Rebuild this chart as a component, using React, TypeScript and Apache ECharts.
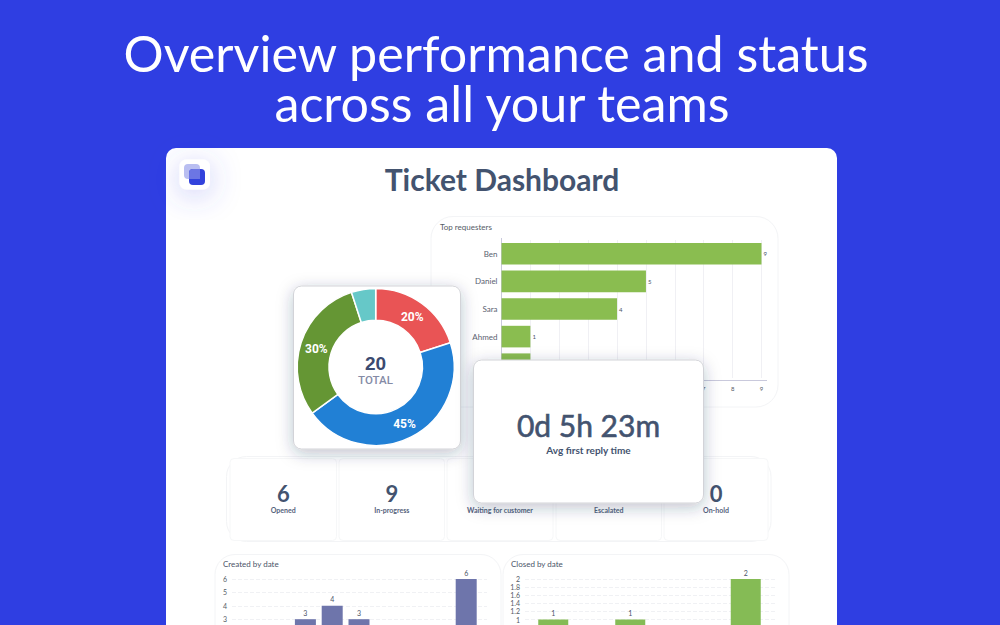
import React, { useEffect, useRef } from "react";
import * as echarts from "echarts";

const headlineLines = ["Overview performance and status", "across all your teams"];
const dashboardTitle = "Ticket Dashboard";

const requesterNames = ["Ben", "Daniel", "Sara", "Ahmed", "Omar"];
const requesterCounts = [9, 5, 4, 1, 1];

const statusNames = ["Waiting for customer", "In-progress", "Opened", "Escalated"];
const statusCounts = [4, 9, 6, 1];
const statusColors = ["#E95455", "#2180D5", "#659634", "#66C8C8"];

const kpiCells = [
  { value: "6", label: "Opened" },
  { value: "9", label: "In-progress" },
  { value: "", label: "Waiting for customer" },
  { value: "", label: "Escalated" },
  { value: "0", label: "On-hold" },
];

const createdDates = ["Mar 1", "Mar 2", "Mar 3", "Mar 4", "Mar 5", "Mar 6", "Mar 7", "Mar 8", "Mar 9"];
const createdCounts = [1, 1, 3, 4, 3, 1, 0, 1, 6];
const closedDates = ["Mar 3", "Mar 4", "Mar 5", "Mar 6", "Mar 7", "Mar 8"];
const closedCounts = [1, 0, 1, 0, 0, 2];

const FONT = "Lato";
const INK = "#43536F";

function panel(x: number, y: number, width: number, height: number, r: number, z: number, extra: any = {}) {
  return {
    type: "rect",
    z,
    shape: { x, y, width, height, r },
    style: { fill: "#FFFFFF", stroke: "#F3F4F6", lineWidth: 1, ...extra },
  };
}

function text(x: number, y: number, t: string, font: string, fill: string, z: number, align = "center", extra: any = {}) {
  return { type: "text", z, x, y, style: { text: t, font, fill, textAlign: align, textVerticalAlign: "middle", ...extra } };
}

const kpiLefts = [230, 339, 447, 556, 664];
const kpiWidths = [106.5, 105.5, 106, 105.5, 104];

function buildOption() {
  const cardShadow = { shadowBlur: 16, shadowColor: "rgba(40,45,80,0.28)", shadowOffsetY: 4, stroke: "#D2D3D8" };
  const axisColor = "#C9C9DC";
  const pieLabelNudge = [[-2, 3], [-1, -1], [3, 2], [0, 0]];
  const graphicElements: any[] = [
    { type: "rect", z: -20, shape: { x: 0, y: 0, width: 1000, height: 625 }, style: { fill: "#2F3EE2" } },
    text(496, 52, headlineLines[0], `400 50.2px ${FONT}`, "#FFFFFF", -19),
    text(502, 102, headlineLines[1], `400 50.2px ${FONT}`, "#FFFFFF", -19),
    { type: "rect", z: -18, shape: { x: 166, y: 148, width: 671, height: 520, r: 10 }, style: { fill: "#FFFFFF" } },
    text(502, 178.5, dashboardTitle, `700 30px ${FONT}`, INK, -17),
    // logo
    {
      type: "rect", z: -16, shape: { x: 179.5, y: 159.5, width: 30.5, height: 30, r: 7 },
      style: { fill: "#FFFFFF", shadowBlur: 30, shadowColor: "rgba(70,80,230,0.3)", shadowOffsetY: 5 },
    },
    { type: "rect", z: -15, shape: { x: 184, y: 164, width: 16, height: 15, r: 4 }, style: { fill: "#B9BEF1" } },
    { type: "rect", z: -14, shape: { x: 189, y: 169, width: 16, height: 16, r: 4 }, style: { fill: "#3242DC" } },
    { type: "rect", z: -13, shape: { x: 189, y: 169, width: 11, height: 10, r: [4, 0, 0, 0] }, style: { fill: "#6C76E4" } },
    // panels
    panel(431, 216.5, 347, 190.5, 22, -10),
    text(440, 227, "Top requesters", `400 8px ${FONT}`, "#555B66", -9, "left"),
    panel(226.5, 456.5, 544.5, 85, 20, -10),
    panel(215, 554.5, 286, 110, 20, -10),
    panel(503, 554.5, 286, 110, 20, -10),
    text(223, 563.5, "Created by date", `400 8px ${FONT}`, "#4A5468", -9, "left"),
    text(511, 563.5, "Closed by date", `400 8px ${FONT}`, "#4A5468", -9, "left"),
    { type: "line", z: 1, shape: { x1: 761, y1: 380.5, x2: 767, y2: 380.5 }, style: { stroke: axisColor, lineWidth: 1 } },
    { type: "line", z: 1, shape: { x1: 501.5, y1: 238, x2: 501.5, y2: 240 }, style: { stroke: axisColor, lineWidth: 1 } },
    { type: "line", z: 1, shape: { x1: 501.5, y1: 378, x2: 501.5, y2: 380 }, style: { stroke: axisColor, lineWidth: 1 } },
    // cards
    { type: "rect", z: 10, shape: { x: 293.5, y: 286, width: 167, height: 163, r: 8 }, style: { fill: "#FFFFFF", lineWidth: 1, ...cardShadow } },
    text(375.5, 363, String(statusCounts.reduce((a, b) => a + b, 0)), `700 19px "Liberation Sans"`, "#3B4A70", 12),
    text(375.5, 380, "TOTAL", `500 11.5px Roboto`, "#858BA6", 12),
    { type: "rect", z: 10, shape: { x: 473.5, y: 360, width: 230, height: 143, r: 8 }, style: { fill: "#FFFFFF", lineWidth: 1, ...cardShadow } },
    text(588.5, 425, "0d 5h 23m", `400 30px ${FONT}`, INK, 12, "center", { stroke: INK, lineWidth: 0.6 }),
    text(588.5, 449.5, "Avg first reply time", `700 10px ${FONT}`, INK, 12),
  ];

  kpiCells.forEach((cell, i) => {
    const left = kpiLefts[i];
    const w = kpiWidths[i];
    graphicElements.push(panel(left, 458.5, w, 82, 4, -8, { stroke: "#F6F7F8" }));
    if (cell.value) graphicElements.push(text(left + w / 2, 493.5, cell.value, `700 22px ${FONT}`, INK, -7));
    graphicElements.push(text(left + w / 2, 510, cell.label, `700 7px ${FONT}`, "#55627C", -7));
  });

  const hiddenAxisBase = { show: false };

  const frameAxis = (gridIndex: number, max: number, interval: number, floor: number) => ({
    type: "value",
    gridIndex,
    min: 0,
    max,
    interval,
    axisLine: { show: false },
    axisTick: { show: false },
    axisLabel: {
      fontFamily: FONT,
      fontSize: 7,
      color: "#555B66",
      margin: 5,
      formatter: (v: number) => (v >= floor ? String(v) : ""),
    },
    splitLine: { lineStyle: { color: "#F0F1F4", type: "dashed", width: 1 } },
  });

  return {
    animation: false,
    grid: [
      { left: 501.5, top: 240, width: 260, height: 138, outerBoundsMode: "none" },
      { left: 232, top: 579, width: 255, height: 80.4, outerBoundsMode: "none" },
      { left: 238.4, top: 579, width: 241.2, height: 80.4, outerBoundsMode: "none" },
      { left: 525, top: 579, width: 250, height: 81.2, outerBoundsMode: "none" },
      { left: 534, top: 579, width: 231, height: 81.2, outerBoundsMode: "none" },
    ],
    xAxis: [
      {
        type: "value",
        gridIndex: 0,
        min: 0,
        max: 9,
        interval: 1,
        offset: 2,
        axisLine: { show: true, lineStyle: { color: axisColor } },
        axisTick: { show: false },
        axisLabel: { fontFamily: FONT, fontSize: 6, color: "#555B66", margin: 5 },
        splitLine: { show: true, lineStyle: { color: "#F0F0F4" } },
      },
      { gridIndex: 1, type: "category", data: createdDates, ...hiddenAxisBase },
      { gridIndex: 2, type: "category", data: createdDates, ...hiddenAxisBase },
      { gridIndex: 3, type: "category", data: closedDates, ...hiddenAxisBase },
      { gridIndex: 4, type: "category", data: closedDates, ...hiddenAxisBase },
    ],
    yAxis: [
      {
        type: "category",
        gridIndex: 0,
        inverse: true,
        data: requesterNames,
        axisLine: { show: true, lineStyle: { color: axisColor } },
        axisTick: { show: false },
        axisLabel: { fontFamily: FONT, fontSize: 8, color: "#5A6170", margin: 4 },
        splitLine: { show: false },
      },
      frameAxis(1, 6, 1, 3),
      { type: "value", gridIndex: 2, min: 0, max: 6, show: false },
      frameAxis(3, 2, 0.2, 1),
      { type: "value", gridIndex: 4, min: 0, max: 2, show: false },
    ],
    graphic: { elements: graphicElements },
    series: [
      {
        type: "bar",
        name: "Top requesters",
        xAxisIndex: 0,
        yAxisIndex: 0,
        data: requesterCounts,
        barWidth: 21.6,
        itemStyle: { color: "#8ABD50" },
        label: { show: true, position: "right", distance: 2, fontFamily: FONT, fontSize: 6, color: "#4A5468" },
      },
      {
        type: "bar",
        name: "Created by date",
        xAxisIndex: 2,
        yAxisIndex: 2,
        data: createdCounts,
        barWidth: 21,
        itemStyle: { color: "#6E75AB" },
        label: {
          show: true, position: "top", distance: 3, fontFamily: FONT, fontSize: 7, color: "#4A5468",
          formatter: (p: any) => (p.value >= 3 ? String(p.value) : ""),
        },
      },
      {
        type: "bar",
        name: "Closed by date",
        xAxisIndex: 4,
        yAxisIndex: 4,
        data: closedCounts,
        barWidth: 30,
        itemStyle: { color: "#85BB55" },
        label: {
          show: true, position: "top", distance: 3, fontFamily: FONT, fontSize: 7, color: "#4A5468",
          formatter: (p: any) => (p.value >= 1 ? String(p.value) : ""),
        },
      },
      {
        type: "pie",
        name: "Status",
        z: 11,
        center: [375.7, 367],
        radius: [46.7, 78.5],
        startAngle: 90,
        clockwise: true,
        silent: true,
        avoidLabelOverlap: false,
        data: statusNames.map((name, i) => ({
          name,
          value: statusCounts[i],
          itemStyle: { color: statusColors[i] },
          label: { show: statusCounts[i] > 1 },
        })),
        itemStyle: { borderColor: "#FFFFFF", borderWidth: 1.5 },
        label: {
          position: "inside",
          formatter: (p: any) => `${Math.round(p.percent)}%`,
          color: "#FFFFFF",
          fontFamily: "Roboto",
          fontWeight: 700,
          fontSize: 12,
          textBorderWidth: 0,
        },
        labelLine: { show: false },
        labelLayout: (p: any) => ({ dx: pieLabelNudge[p.dataIndex][0], dy: pieLabelNudge[p.dataIndex][1] }),
      },
    ],
  };
}

export default function App() {
  const ref = useRef<HTMLDivElement>(null);
  useEffect(() => {
    document.body.style.margin = "0";
    const chart = echarts.init(ref.current as HTMLDivElement, undefined, { renderer: "svg" });
    chart.setOption(buildOption() as any);
    return () => chart.dispose();
  }, []);
  return <div ref={ref} style={{ width: 1000, height: 625, overflow: "hidden" }} />;
}
